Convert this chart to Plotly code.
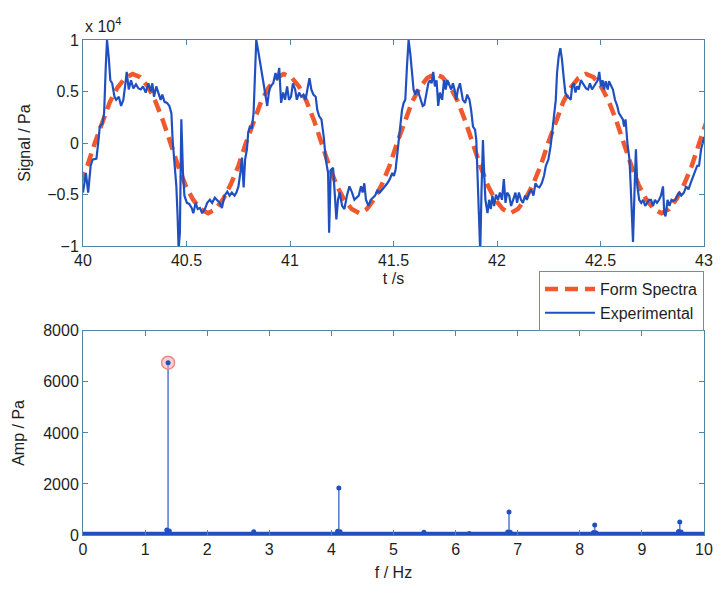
import plotly.graph_objects as go

# ---------------- data ----------------
# Top panel: time signal, values in units of 1e4 Pa
exp_t = [
    40.000, 40.014, 40.025, 40.037, 40.046, 40.065, 40.075, 40.081, 40.094, 40.102,
    40.110, 40.116, 40.124, 40.132, 40.141, 40.152, 40.160, 40.173, 40.184, 40.195,
    40.205, 40.211, 40.221, 40.232, 40.243, 40.256, 40.268, 40.279, 40.290, 40.303,
    40.316, 40.327, 40.335, 40.343, 40.354, 40.363, 40.375, 40.383, 40.394, 40.406,
    40.417, 40.427, 40.433, 40.443, 40.451, 40.457, 40.462, 40.468, 40.475, 40.483,
    40.490, 40.502, 40.513, 40.525, 40.533, 40.544, 40.554, 40.565, 40.576, 40.589,
    40.600, 40.613, 40.624, 40.637, 40.648, 40.660, 40.671, 40.684, 40.697, 40.708,
    40.719, 40.732, 40.741, 40.751, 40.760, 40.768, 40.776, 40.783, 40.792, 40.798,
    40.806, 40.816, 40.824, 40.830, 40.837, 40.846, 40.859, 40.870, 40.883, 40.890,
    40.898, 40.906, 40.919, 40.930, 40.938, 40.948, 40.957, 40.967, 40.976, 40.986,
    40.995, 41.005, 41.014, 41.025, 41.033, 41.044, 41.054, 41.065, 41.075, 41.084,
    41.094, 41.103, 41.113, 41.124, 41.132, 41.141, 41.152, 41.163, 41.173, 41.184,
    41.189, 41.197, 41.208, 41.216, 41.224, 41.232, 41.240, 41.252, 41.263, 41.275,
    41.287, 41.300, 41.311, 41.332, 41.343, 41.351, 41.359, 41.367, 41.379, 41.390,
    41.402, 41.411, 41.422, 41.433, 41.446, 41.459, 41.470, 41.482, 41.494, 41.502,
    41.510, 41.517, 41.525, 41.533, 41.541, 41.549, 41.557, 41.565, 41.573, 41.581,
    41.589, 41.597, 41.605, 41.613, 41.621, 41.632, 41.641, 41.649, 41.657, 41.668,
    41.676, 41.684, 41.692, 41.700, 41.708, 41.716, 41.724, 41.735, 41.744, 41.752,
    41.760, 41.771, 41.779, 41.787, 41.795, 41.803, 41.811, 41.821, 41.827, 41.835,
    41.846, 41.856, 41.867, 41.875, 41.884, 41.894, 41.900, 41.906, 41.914, 41.919,
    41.925, 41.932, 41.938, 41.944, 41.954, 41.962, 41.970, 41.978, 41.986, 41.995,
    42.005, 42.014, 42.024, 42.033, 42.041, 42.049, 42.059, 42.068, 42.078, 42.089,
    42.097, 42.106, 42.116, 42.125, 42.136, 42.144, 42.156, 42.165, 42.176, 42.186,
    42.195, 42.205, 42.216, 42.227, 42.236, 42.248, 42.259, 42.268, 42.276, 42.284,
    42.290, 42.298, 42.306, 42.314, 42.322, 42.330, 42.340, 42.348, 42.356, 42.363,
    42.371, 42.379, 42.387, 42.395, 42.405, 42.414, 42.422, 42.430, 42.440, 42.449,
    42.459, 42.468, 42.478, 42.487, 42.494, 42.502, 42.510, 42.517, 42.525, 42.535,
    42.541, 42.551, 42.560, 42.570, 42.581, 42.589, 42.598, 42.608, 42.614, 42.621,
    42.630, 42.640, 42.646, 42.652, 42.657, 42.665, 42.671, 42.678, 42.687, 42.697,
    42.706, 42.716, 42.725, 42.735, 42.744, 42.754, 42.763, 42.773, 42.783, 42.792,
    42.802, 42.808, 42.814, 42.824, 42.833, 42.843, 42.852, 42.862, 42.871, 42.882,
    42.890, 42.903, 42.914, 42.925, 42.935, 42.944, 42.954, 42.967, 42.976, 42.986,
    42.995, 43.001,
]
exp_v = [
    -0.48, -0.29, -0.48, -0.22, -0.16, -0.15, 0.03, 0.16, 0.19, 0.29,
    0.74, 1.00, 0.84, 0.61, 0.58, 0.45, 0.42, 0.45, 0.36, 0.42,
    0.58, 0.69, 0.52, 0.61, 0.53, 0.57, 0.53, 0.52, 0.55, 0.49,
    0.58, 0.50, 0.58, 0.45, 0.55, 0.49, 0.42, 0.47, 0.40, 0.39,
    0.36, 0.29, 0.03, -0.22, -0.42, -0.71, -1.03, -0.87, 0.23, -0.29,
    -0.51, -0.58, -0.59, -0.63, -0.68, -0.58, -0.64, -0.63, -0.68, -0.64,
    -0.58, -0.55, -0.58, -0.53, -0.55, -0.58, -0.63, -0.51, -0.47, -0.51,
    -0.48, -0.51, -0.48, -0.42, -0.29, -0.14, -0.43, -0.16, -0.06, 0.10,
    0.16, 0.15, 0.29, 0.58, 1.00, 0.90, 0.74, 0.61, 0.45, 0.36,
    0.49, 0.55, 0.58, 0.68, 0.61, 0.73, 0.39, 0.49, 0.42, 0.55,
    0.42, 0.45, 0.58, 0.52, 0.42, 0.49, 0.45, 0.47, 0.42, 0.52,
    0.63, 0.52, 0.47, 0.45, 0.32, 0.26, 0.23, 0.06, -0.16, -0.29,
    -0.87, -0.26, -0.24, -0.48, -0.74, -0.55, -0.48, -0.61, -0.64, -0.51,
    -0.42, -0.48, -0.55, -0.51, -0.42, -0.48, -0.39, -0.55, -0.61, -0.55,
    -0.53, -0.51, -0.46, -0.48, -0.45, -0.42, -0.39, -0.35, -0.29, -0.32,
    -0.26, -0.13, 0.03, 0.19, 0.32, 0.39, 0.42, 0.74, 1.00, 0.87,
    0.68, 0.52, 0.47, 0.52, 0.49, 0.42, 0.36, 0.37, 0.45, 0.58,
    0.61, 0.58, 0.69, 0.55, 0.61, 0.36, 0.49, 0.42, 0.61, 0.52,
    0.61, 0.55, 0.52, 0.58, 0.52, 0.42, 0.52, 0.58, 0.49, 0.42,
    0.39, 0.47, 0.42, 0.32, 0.16, 0.13, 0.03, -0.35, -0.71, -1.06,
    -0.48, 0.03, -0.29, -0.55, -0.68, -0.55, -0.64, -0.51, -0.61, -0.50,
    -0.55, -0.48, -0.55, -0.35, -0.58, -0.48, -0.51, -0.61, -0.55, -0.48,
    -0.58, -0.48, -0.55, -0.58, -0.51, -0.55, -0.48, -0.45, -0.51, -0.39,
    -0.42, -0.43, -0.39, -0.32, -0.22, -0.16, -0.03, 0.16, 0.32, 0.42,
    0.68, 0.84, 0.92, 0.81, 0.64, 0.49, 0.45, 0.44, 0.42, 0.55,
    0.58, 0.49, 0.55, 0.52, 0.61, 0.58, 0.55, 0.53, 0.52, 0.58,
    0.52, 0.55, 0.58, 0.61, 0.69, 0.55, 0.61, 0.52, 0.60, 0.52,
    0.60, 0.55, 0.52, 0.42, 0.36, 0.29, 0.26, 0.23, 0.16, 0.23,
    0.00, -0.16, -0.42, -0.71, -0.96, -0.42, -0.06, -0.42, -0.55, -0.58,
    -0.55, -0.61, -0.58, -0.55, -0.55, -0.61, -0.55, -0.58, -0.55, -0.51,
    -0.42, -0.68, -0.71, -0.55, -0.61, -0.55, -0.56, -0.55, -0.51, -0.48,
    -0.51, -0.48, -0.42, -0.45, -0.39, -0.35, -0.29, -0.22, -0.22, -0.06,
    0.03, 0.06,
]

form_t = [
    39.984, 40.021,
    40.057, 40.094, 40.130, 40.167, 40.203, 40.240, 40.276, 40.313, 40.349, 40.386,
    40.422, 40.459, 40.495, 40.532, 40.568, 40.605, 40.641, 40.678, 40.714, 40.751,
    40.787, 40.824, 40.860, 40.897, 40.933, 40.970, 41.006, 41.043, 41.079, 41.116,
    41.152, 41.189, 41.225, 41.262, 41.298, 41.335, 41.371, 41.408, 41.444, 41.481,
    41.517, 41.554, 41.590, 41.627, 41.663, 41.700, 41.736, 41.773, 41.809, 41.846,
    41.882, 41.919, 41.955, 41.992, 42.028, 42.065, 42.101, 42.138, 42.174, 42.211,
    42.247, 42.284, 42.320, 42.357, 42.393, 42.430, 42.466, 42.503, 42.539, 42.576,
    42.612, 42.649, 42.685, 42.722, 42.758, 42.795, 42.831, 42.868, 42.904, 42.941,
    42.977, 43.014,
]
form_v = [
    -0.40, -0.22,
    0.00, 0.22, 0.40, 0.54, 0.63, 0.67, 0.64, 0.55, 0.41, 0.22,
    0.00, -0.22, -0.41, -0.55, -0.64, -0.68, -0.64, -0.54, -0.40, -0.22,
    0.00, 0.22, 0.40, 0.54, 0.63, 0.67, 0.64, 0.55, 0.41, 0.22,
    0.00, -0.22, -0.41, -0.55, -0.64, -0.68, -0.64, -0.54, -0.40, -0.22,
    0.00, 0.22, 0.40, 0.54, 0.63, 0.67, 0.64, 0.55, 0.41, 0.22,
    0.00, -0.22, -0.41, -0.55, -0.64, -0.68, -0.64, -0.54, -0.40, -0.22,
    0.00, 0.22, 0.40, 0.54, 0.63, 0.67, 0.64, 0.55, 0.41, 0.22,
    0.00, -0.22, -0.41, -0.55, -0.64, -0.68, -0.64, -0.54, -0.40, -0.22,
    0.00, 0.22,
]

# Bottom panel: amplitude spectrum (Pa)
peak_f = [1.37, 2.75, 4.12, 5.49, 6.22, 6.86, 8.24, 9.61]
peak_a = [6750, 130, 1840, 110, 60, 900, 390, 510]
side_f = [1.35, 1.39, 4.10, 4.14, 6.84, 6.88, 8.22, 8.26, 9.59, 9.63]
side_a = [200, 160, 150, 130, 120, 110, 100, 90, 140, 120]
floor_f = [0.0, 10.0]
floor_a = [40, 40]
mark_f = [1.37]
mark_a = [6750]

top_xticks = [40, 40.5, 41, 41.5, 42, 42.5, 43]
top_yticks = [-1, -0.5, 0, 0.5, 1]
bot_xticks = [0, 1, 2, 3, 4, 5, 6, 7, 8, 9, 10]
bot_yticks = [0, 2000, 4000, 6000, 8000]

# ---------------- styling ----------------
BLUE = "#2050c0"
STEM = "#5a80d8"
RED = "#f0582e"
AX = "#4f86a4"
TXT = "#1e1e1e"
FONT = "Liberation Sans, Arial, sans-serif"

fig = go.Figure()

fig.add_trace(go.Scatter(x=form_t, y=form_v, mode="lines", name="Form Spectra",
                         line=dict(color=RED, width=4.5, dash="13px,7px"),
                         xaxis="x", yaxis="y"))
fig.add_trace(go.Scatter(x=exp_t, y=exp_v, mode="lines", name="Experimental",
                         line=dict(color=BLUE, width=2.2),
                         xaxis="x", yaxis="y"))

# stems
stem_x, stem_y = [], []
for f, a in zip(peak_f + side_f, peak_a + side_a):
    stem_x += [f, f, None]
    stem_y += [0, a, None]
fig.add_trace(go.Scatter(x=stem_x, y=stem_y, mode="lines", showlegend=False,
                         line=dict(color=STEM, width=1.6), xaxis="x2", yaxis="y2"))
fig.add_trace(go.Scatter(x=floor_f, y=floor_a, mode="lines", showlegend=False,
                         line=dict(color=BLUE, width=4.5), xaxis="x2", yaxis="y2"))
fig.add_trace(go.Scatter(x=mark_f, y=mark_a, mode="markers", showlegend=False,
                         marker=dict(size=13, color="rgba(250,170,170,0.55)",
                                     line=dict(color="#f08a8a", width=1.5)),
                         xaxis="x2", yaxis="y2"))
fig.add_trace(go.Scatter(x=peak_f + side_f, y=peak_a + side_a, mode="markers",
                         showlegend=False, marker=dict(size=5, color=BLUE),
                         xaxis="x2", yaxis="y2"))

axis_common = dict(showline=True, linecolor=AX, linewidth=1, mirror="ticks",
                   ticks="inside", ticklen=5, tickcolor=AX, tickwidth=1,
                   showgrid=False, zeroline=False,
                   tickfont=dict(family=FONT, size=16, color=TXT))

fig.update_layout(
    width=725, height=590,
    margin=dict(l=83, r=12, t=40, b=53),
    paper_bgcolor="white", plot_bgcolor="white",
    font=dict(family=FONT, color=TXT),
    xaxis=dict(domain=[0, 1], range=[40, 43], tickvals=top_xticks,
               anchor="y",
               title=dict(text="t /s", font=dict(size=16), standoff=4),
               **axis_common),
    yaxis=dict(domain=[0.5835, 1], range=[-1, 1], tickvals=top_yticks,
               anchor="x",
               title=dict(text="Signal / Pa", font=dict(size=16), standoff=12),
               **axis_common),
    xaxis2=dict(domain=[0, 1], range=[0, 10], tickvals=bot_xticks,
                anchor="y2",
                title=dict(text="f / Hz", font=dict(size=16), standoff=9),
                **axis_common),
    yaxis2=dict(domain=[0, 0.4125], range=[0, 8000], tickvals=bot_yticks,
                anchor="x2",
                title=dict(text="Amp / Pa", font=dict(size=16), standoff=14),
                **axis_common),
    legend=dict(x=1, y=0.5332, xanchor="right", yanchor="top",
                bgcolor="white", bordercolor="#6f8f9f", borderwidth=1,
                font=dict(family=FONT, size=16, color=TXT),
                itemwidth=50, tracegroupgap=2),
    annotations=[dict(text="x 10<sup>4</sup>", x=0, y=1, xref="paper", yref="paper",
                      xanchor="left", yanchor="bottom", yshift=3, showarrow=False,
                      font=dict(family=FONT, size=16, color=TXT))],
)

fig.write_html("out.html")
